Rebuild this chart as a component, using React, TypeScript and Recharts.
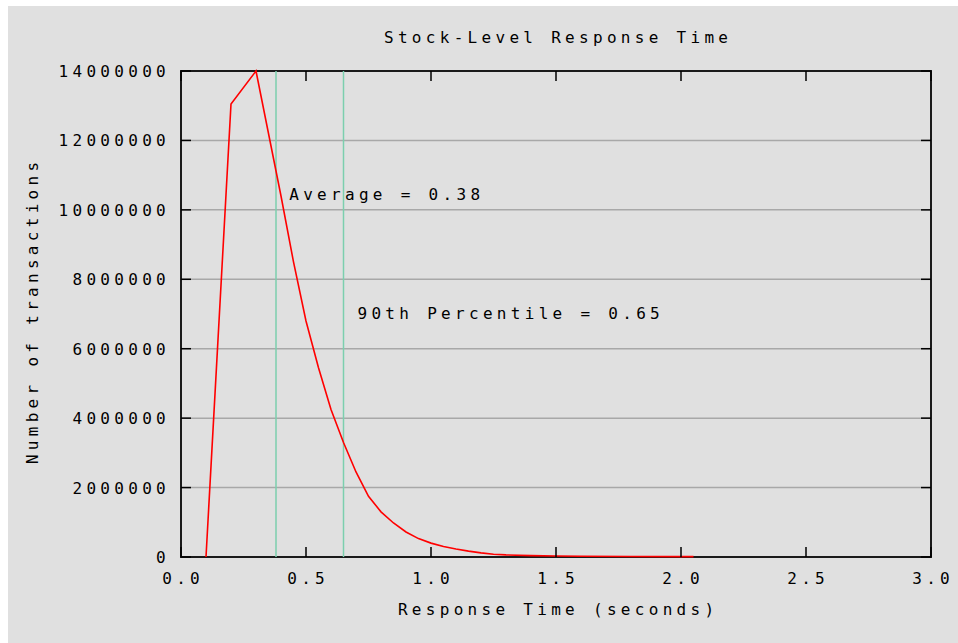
import React from 'react';
import {
  LineChart,
  Line,
  XAxis,
  YAxis,
  CartesianGrid,
  ReferenceLine,
  ReferenceArea,
  ReferenceDot,
} from 'recharts';

// response time (seconds) and transaction counts
const responseTimes = [
  0.1, 0.2, 0.3, 0.35, 0.4, 0.45, 0.5, 0.55, 0.6, 0.65, 0.7, 0.75, 0.8, 0.85, 0.9, 0.95, 1.0,
  1.05, 1.1, 1.15, 1.2, 1.25, 1.3, 1.4, 1.5, 1.6, 1.8, 2.05,
];
const transactionCounts = [
  0, 13050000, 14000000, 12200000, 10400000, 8500000, 6800000, 5450000, 4250000, 3300000,
  2450000, 1750000, 1300000, 980000, 720000, 530000, 400000, 300000, 230000, 170000, 120000,
  80000, 60000, 40000, 30000, 20000, 15000, 10000,
];

const xTicks = [0, 0.5, 1.0, 1.5, 2.0, 2.5, 3.0];
const yTicks = [0, 2000000, 4000000, 6000000, 8000000, 10000000, 12000000, 14000000];

const averageTime = 0.38;
const percentile90 = 0.65;

const rows = responseTimes.map((t, i) => ({ time: t, count: transactionCounts[i] }));

const W = 950;
const H = 637;
const PL = 173;
const PR = 923;
const PT = 65;
const PB = 551;

const FONT = '"DejaVu Sans Mono", monospace';
const FS = 16;
const LS = 4.3;
const TICK = 10;

function XTick(props: any) {
  const { x, payload } = props;
  return (
    <g>
      <line x1={x} x2={x} y1={PB} y2={PB - TICK} stroke="#000" strokeWidth={1.5} />
      <line x1={x} x2={x} y1={PT} y2={PT + TICK} stroke="#000" strokeWidth={1.5} />
      <text
        x={x + LS / 2}
        y={PB + 27}
        textAnchor="middle"
        fontFamily={FONT}
        fontSize={FS}
        letterSpacing={LS}
        fill="#000"
      >
        {Number(payload.value).toFixed(1)}
      </text>
    </g>
  );
}

function YTick(props: any) {
  const { y, payload } = props;
  return (
    <g>
      <line x1={PL} x2={PL + TICK} y1={y} y2={y} stroke="#000" strokeWidth={1.5} />
      <line x1={PR} x2={PR - TICK} y1={y} y2={y} stroke="#000" strokeWidth={1.5} />
      <text
        x={PL - 11}
        y={y + 6}
        textAnchor="end"
        fontFamily={FONT}
        fontSize={FS}
        letterSpacing={LS}
        fill="#000"
      >
        {String(payload.value)}
      </text>
    </g>
  );
}

function noteLabel(text: string) {
  return (p: any) => (
    <text
      x={p.viewBox.x}
      y={p.viewBox.y + 6}
      fontFamily={FONT}
      fontSize={FS}
      letterSpacing={LS}
      fill="#000"
    >
      {text}
    </text>
  );
}

const textStyle: React.CSSProperties = {
  position: 'absolute',
  fontFamily: FONT,
  fontSize: FS,
  letterSpacing: LS,
  paddingLeft: LS,
  whiteSpace: 'nowrap',
  color: '#000',
  lineHeight: 1,
};

export default function App() {
  return (
    <>
      <style>{'html,body{margin:0;overflow:hidden;background:#fff}'}</style>
      <div
        style={{
          position: 'relative',
          marginLeft: 8,
          marginTop: 6,
          width: W,
          height: H,
          background: '#e0e0e0',
        }}
      >
        <LineChart width={W} height={H} data={rows} margin={{ top: PT, right: W - PR, left: 0, bottom: 0 }}>
          <CartesianGrid vertical={false} stroke="#a8a8a8" strokeWidth={1.5} />
          <XAxis
            dataKey="time"
            type="number"
            domain={[0, 3]}
            ticks={xTicks}
            interval={0}
            height={H - PB}
            axisLine={false}
            tickLine={false}
            tick={<XTick />}
          />
          <YAxis
            type="number"
            domain={[0, 14000000]}
            ticks={yTicks}
            interval={0}
            width={PL}
            axisLine={false}
            tickLine={false}
            tick={<YTick />}
          />
          <ReferenceArea x1={0} x2={3} y1={0} y2={14000000} fill="none" stroke="#1a1a1a" strokeWidth={2} />
          <ReferenceLine x={averageTime} stroke="#7ccfae" strokeWidth={1.5} />
          <ReferenceLine x={percentile90} stroke="#7ccfae" strokeWidth={1.5} />
          <ReferenceDot
            x={0.435}
            y={10450000}
            r={0.5}
            fillOpacity={0}
            stroke="none"
            label={noteLabel(`Average = ${averageTime.toFixed(2)}`)}
          />
          <ReferenceDot
            x={0.708}
            y={7020000}
            r={0.5}
            fillOpacity={0}
            stroke="none"
            label={noteLabel(`90th Percentile = ${percentile90.toFixed(2)}`)}
          />
          <Line
            type="linear"
            dataKey="count"
            stroke="#ff0000"
            strokeWidth={1.6}
            dot={false}
            isAnimationActive={false}
          />
        </LineChart>
        <div style={{ ...textStyle, left: (PL + PR) / 2, top: 32, transform: 'translate(-50%, -50%)' }}>
          Stock-Level Response Time
        </div>
        <div style={{ ...textStyle, left: (PL + PR) / 2, top: 604, transform: 'translate(-50%, -50%)' }}>
          Response Time (seconds)
        </div>
        <div
          style={{
            ...textStyle,
            left: 25,
            top: 307,
            transform: 'translate(-50%, -50%) rotate(-90deg)',
          }}
        >
          Number of transactions
        </div>
      </div>
    </>
  );
}
